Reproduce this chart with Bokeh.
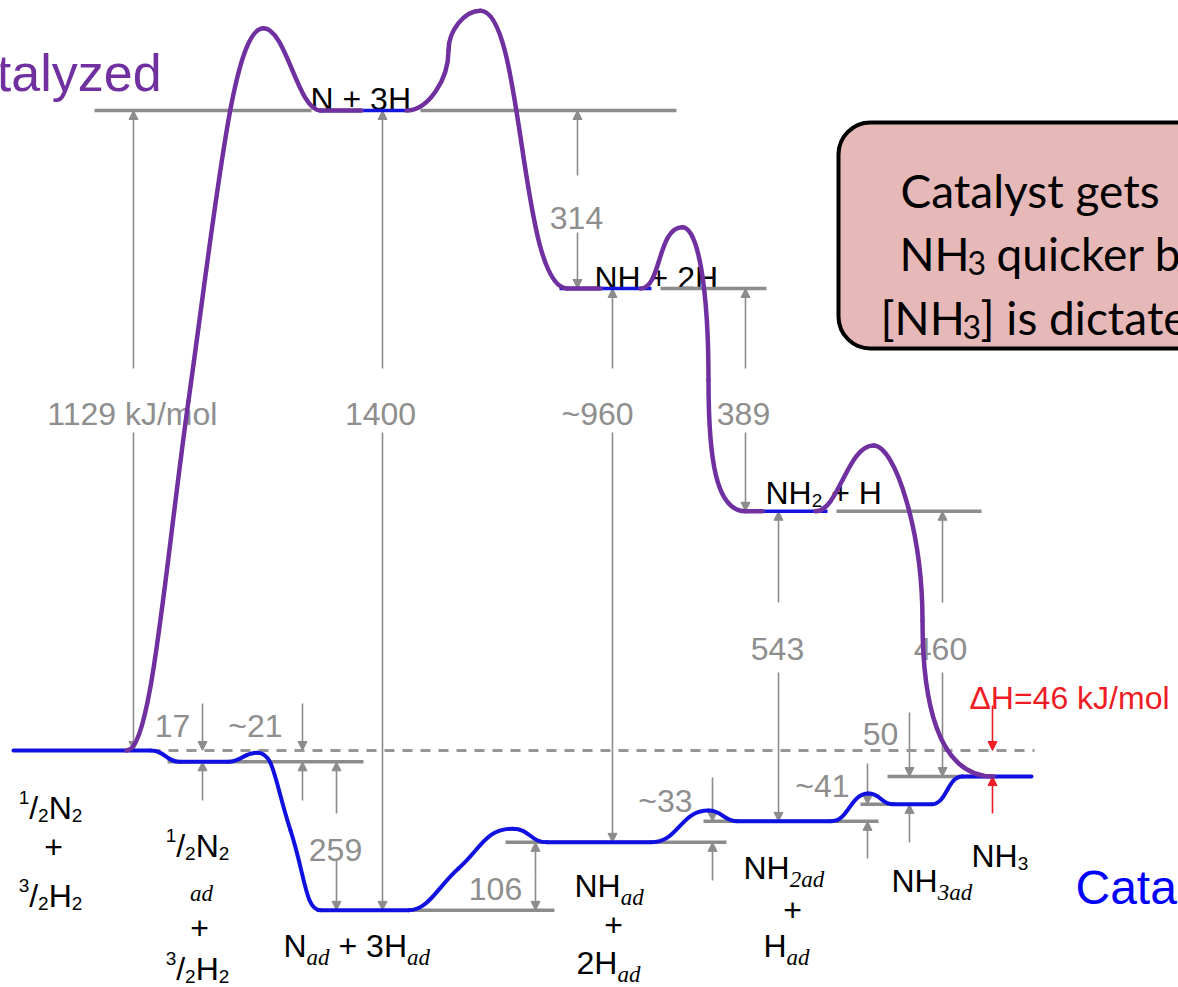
from bokeh.plotting import figure
from bokeh.models import Range1d, ColumnDataSource, Arrow, NormalHead, BoxAnnotation
from bokeh.embed import file_html
from bokeh.resources import INLINE

# ---------------- data (kJ/mol, relative to 1/2 N2 + 3/2 H2) ----------------
gas_names = ["1/2N2 + 3/2H2", "N + 3H", "NH + 2H", "NH2 + H", "NH3"]
gas_E = [0, 1129, 815, 422, -46]
ads_names = ["1/2N2,ad + 3/2H2", "Nad + 3Had", "NHad + 2Had", "NH2ad + Had", "NH3ad"]
ads_E = [-20, -282, -162, -125, -95]
uncat_ts_E = [1274, 1305, 923, 538]      # peaks of the uncatalysed curve
cat_ts_E = [-4, -138, -106, -76]         # peaks of the catalysed curve

step_text = ["1129 kJ/mol", "1400", "314", "~960", "389", "543", "460",
             "17", "~21", "259", "106", "~33", "~41", "50"]
dH_text = "ΔH=46 kJ/mol"

# uncatalysed (purple) path key points: reaction coordinate, energy, tangent slope (None = vertical)
unc_x = [126, 188, 263, 320, 361, 406, 448, 480, 567, 600, 640, 682, 708, 745, 762, 815, 873, 922, 993]
unc_E = [0, 617, 1274, 1129, 1129, 1129, 1235, 1305, 815, 815, 815, 923, 653, 422, 422, 422, 538, 229, -46]
unc_slope = [0, 12.65, 0, 0, 0, 0, None, 0, 0, 0, 0, 0, None, 0, 0, 0, 0, None, 0]
unc_k = [.4, .4, .4, .4, .4, .5, .5, .5, .55, .5, .5, .6, .6, .8, .5, .4, .45, .5, .8]
unc_gaps = [4, 9, 14]

# catalysed (blue) path key points
cat_x = [13, 150, 180, 227, 257, 290, 320, 408, 458, 512, 547, 650, 708, 737, 830, 868, 893, 931, 962, 1031]
cat_E = [0, 0, -20, -20, -4, -141, -282, -282, -208, -138, -162, -162, -106, -125, -125, -76, -95, -95, -46, -46]
cat_slope = [0, 0, 0, 0, 0, -5.47, 0, 0, 1.53, 0, 0, 0, 0, 0, 0, 0, 0, 0, 0, 0]
cat_k = [.4, .5, .5, .5, .5, .5, .5, .4, .4, .5, .5, .5, .5, .5, .5, .5, .5, .5, .5, .5]

# grey level bars
lvl_x0 = [94, 420, 660, 836, 167, 408, 505, 703, 860, 887]
lvl_x1 = [311, 676, 766, 981, 363, 554, 726, 878, 895, 993]
lvl_E = [1129, 1129, 815, 422, -20, -282, -162, -125, -95, -46]
# blue bars for the gas-phase radicals
gas_x0 = [319, 559, 758]
gas_x1 = [406, 651, 827]
gas_bar_E = [1129, 815, 422]

# ---------------- page geometry ----------------
Y0_PX = 750.0
PX_PER_KJ = 640.0 / 1129.0


def E_of(py):
    return (Y0_PX - py) / PX_PER_KJ


W, H = 1178, 987
p = figure(width=W, height=H, x_range=Range1d(0, W), y_range=Range1d(E_of(H), E_of(0)),
           x_axis_type=None, y_axis_type=None, toolbar_location=None, output_backend="svg",
           min_border=0, outline_line_color=None, background_fill_color="white")
p.grid.visible = False

# ---------------- callout box ----------------
box = BoxAnnotation(left=838, right=1260, top=E_of(122), bottom=E_of(348),
                    fill_color="#e6b9b8", fill_alpha=1.0, line_color="black", line_alpha=1.0,
                    line_width=4, border_radius=32, level="underlay")
p.add_layout(box)

# ---------------- texts ----------------
ARIAL = {' ': 278, '+': 584, '/': 278, '~': 584, '=': 584, '[': 278, ']': 278,
         'H': 722, 'N': 722, 'U': 722, 'C': 722, 'J': 500, 'k': 500, 'm': 833, 'o': 556,
         'l': 222, 'n': 556, 'c': 500, 'a': 556, 't': 278, 'y': 500, 'z': 500, 'e': 556,
         'd': 556, 'Δ': 668}
SERIF_I = {' ': 250, 'a': 500, 'd': 500, '2': 500, '3': 500}
LATO = {' ': 193}
RUN_STYLE = {
    "n": ("Liberation Sans", 32, "normal", 0),
    "sup": ("Liberation Sans", 19, "normal", -10),
    "sub": ("Liberation Sans", 19, "normal", 8),
    "isub": ("Liberation Serif", 23, "italic", 12),
    "i": ("Liberation Serif", 23, "italic", 0),
    "title": ("Liberation Sans", 52, "normal", 0),
    "title2": ("Liberation Sans", 48, "normal", 0),
    "box": ("Lato", 46, "normal", 0),
    "boxsub": ("Lato", 32, "normal", 9),
}

T = dict(x=[], y=[], text=[], font=[], size=[], style=[], color=[])


def table_for(font):
    return SERIF_I if font == "Liberation Serif" else (LATO if font == "Lato" else ARIAL)


def run_w(text, st):
    font, size, _, _ = RUN_STYLE[st]
    tab = table_for(font)
    return sum(tab.get(c, 556) for c in text) * size / 1000.0


def put(runs, x, base_px, align="left", color="black"):
    total = sum(run_w(t, s) for t, s in runs)
    cx = x - total / 2 if align == "center" else (x - total if align == "right" else x)
    for t, s in runs:
        font, size, fstyle, dy = RUN_STYLE[s]
        lead = len(t) - len(t.lstrip(' '))
        T["x"].append(cx + run_w(' ' * lead, s))
        T["y"].append(E_of(base_px + dy))
        T["text"].append(t.strip(' '))
        T["font"].append(font)
        T["size"].append(f"{size}px")
        T["style"].append(fstyle)
        T["color"].append(color)
        cx += run_w(t, s)


FRAC_N2 = [("1", "sup"), ("/", "n"), ("2", "sub"), ("N", "n"), ("2", "sub")]
FRAC_H2 = [("3", "sup"), ("/", "n"), ("2", "sub"), ("H", "n"), ("2", "sub")]
chem_labels = [
    (FRAC_N2, 50, 807, "center"),
    ([("+", "n")], 53, 846, "center"),
    (FRAC_H2, 50, 895, "center"),
    (FRAC_N2, 197, 845, "center"),
    ([("ad", "i")], 201, 893, "center"),
    ([("+", "n")], 199, 927, "center"),
    (FRAC_H2, 197, 968, "center"),
    ([("N", "n"), ("ad", "isub"), (" + 3H", "n"), ("ad", "isub")], 283, 945, "left"),
    ([("NH", "n"), ("ad", "isub")], 574, 885, "left"),
    ([("+", "n")], 613, 924, "center"),
    ([("2H", "n"), ("ad", "isub")], 576, 962, "left"),
    ([("NH", "n"), ("2ad", "isub")], 743, 867, "left"),
    ([("+", "n")], 792, 909, "center"),
    ([("H", "n"), ("ad", "isub")], 763, 945, "left"),
    ([("NH", "n"), ("3ad", "isub")], 891, 880, "left"),
    ([("NH", "n"), ("3", "sub")], 971, 855, "left"),
    ([("N + 3H", "n")], 310, 98, "left"),
    ([("NH + 2H", "n")], 594, 277, "left"),
    ([("NH", "n"), ("2", "sub"), (" + H", "n")], 765, 492, "left"),
]
for runs, x, b, al in chem_labels:
    put(runs, x, b, al)

step_cx = [133, 380, 576, 597, 743, 777, 940, 172, 255, 335, 495, 665, 822, 880]
step_base = [413, 413, 217, 413, 413, 648, 648, 725, 725, 849, 888, 800, 785, 733]
for t, x, b in zip(step_text, step_cx, step_base):
    put([(t, "n")], x, b, "center", "#8e8e8e")
put([(dH_text, "n")], 1069, 697, "center", "#ee1c24")

put([("Uncatalyzed", "title")], 161, 72, "right", "#7030a0")
put([("Catalyzed", "title2")], 1075, 887, "left", "#0000ff")

box_runs = [("Catalyst gets", 900, 190, "box"),
            ("NH", 899, 253, "box"), ("3", 967, 253, "boxsub"), ("quicker but", 996, 253, "box"),
            ("[NH", 880, 317, "box"), ("3", 962, 317, "boxsub"), ("] is dictated by", 980, 317, "box")]
for t, x, b, s in box_runs:
    put([(t, s)], x, b, "left")

p.text(x="x", y="y", text="text", text_font="font", text_font_size="size",
       text_font_style="style", text_color="color", text_align="left",
       text_baseline="alphabetic", source=ColumnDataSource(T))

# ---------------- levels ----------------
p.segment(x0=[150], y0=[gas_E[0]], x1=[1034], y1=[gas_E[0]], line_color="#979797",
          line_width=3, line_dash="10 8")
p.segment(x0=lvl_x0, y0=lvl_E, x1=lvl_x1, y1=lvl_E, line_color="#8c8c8c", line_width=3.5)
p.segment(x0=gas_x0, y0=gas_bar_E, x1=gas_x1, y1=gas_bar_E, line_color="#1515e0", line_width=3.5)

# ---------------- arrows ----------------
arrow_x = [133, 133, 382, 382, 577, 577, 612, 612, 745, 745, 778, 778, 942, 942,
           202, 202, 302, 302, 336, 336, 535, 535, 712, 712, 867, 867, 909, 909]
arrow_tail_px = [368, 432, 368, 432, 175, 232, 368, 432, 368, 432, 602, 672, 602, 672,
                 703, 800, 703, 800, 813, 858, 876, 876, 777, 880, 763, 858, 712, 842]
arrow_head_E = [1129, 0, 1129, -282, 1129, 815, 815, -162, 815, 422, 422, -125, 422, -46,
                0, -20, 0, -20, -20, -282, -162, -282, -125, -162, -95, -125, -46, -95]
asrc = ColumnDataSource(dict(x0=arrow_x, y0=[E_of(v) for v in arrow_tail_px],
                             x1=arrow_x, y1=arrow_head_E))
p.add_layout(Arrow(end=NormalHead(size=9, fill_color="#8c8c8c", line_color="#8c8c8c", line_width=1),
                   x_start="x0", y_start="y0", x_end="x1", y_end="y1", source=asrc,
                   line_color="#8c8c8c", line_width=1.6, level="underlay"))
rsrc = ColumnDataSource(dict(x0=[992, 992], y0=[E_of(705), E_of(813)], x1=[992, 992], y1=[0, -46]))
p.add_layout(Arrow(end=NormalHead(size=9, fill_color="#ee1c24", line_color="#ee1c24", line_width=1),
                   x_start="x0", y_start="y0", x_end="x1", y_end="y1", source=rsrc,
                   line_color="#ee1c24", line_width=1.6, level="underlay"))


# ---------------- curves ----------------
def bezier_segments(xs, Es, slopes, ks, gaps=()):
    out = dict(x0=[], y0=[], x1=[], y1=[], cx0=[], cy0=[], cx1=[], cy1=[])
    for i in range(len(xs) - 1):
        if i in gaps:
            continue
        xa, ya, xb, yb = xs[i], Es[i], xs[i + 1], Es[i + 1]
        dx = xb - xa
        if slopes[i] is None:
            c0 = (xa, ya + ks[i] * (yb - ya))
        else:
            c0 = (xa + ks[i] * dx, ya + slopes[i] * ks[i] * dx)
        if slopes[i + 1] is None:
            c1 = (xb, yb + ks[i + 1] * (ya - yb))
        else:
            c1 = (xb - ks[i + 1] * dx, yb - slopes[i + 1] * ks[i + 1] * dx)
        out["x0"].append(xa); out["y0"].append(ya)
        out["x1"].append(xb); out["y1"].append(yb)
        out["cx0"].append(c0[0]); out["cy0"].append(c0[1])
        out["cx1"].append(c1[0]); out["cy1"].append(c1[1])
    return ColumnDataSource(out)


p.bezier(x0="x0", y0="y0", x1="x1", y1="y1", cx0="cx0", cy0="cy0", cx1="cx1", cy1="cy1",
         source=bezier_segments(cat_x, cat_E, cat_slope, cat_k),
         line_color="#1010e0", line_width=4, line_cap="round")
p.bezier(x0="x0", y0="y0", x1="x1", y1="y1", cx0="cx0", cy0="cy0", cx1="cx1", cy1="cy1",
         source=bezier_segments(unc_x, unc_E, unc_slope, unc_k, unc_gaps),
         line_color="#7030a0", line_width=4.5, line_cap="round")

open("out.html", "w").write(file_html(p, INLINE))
